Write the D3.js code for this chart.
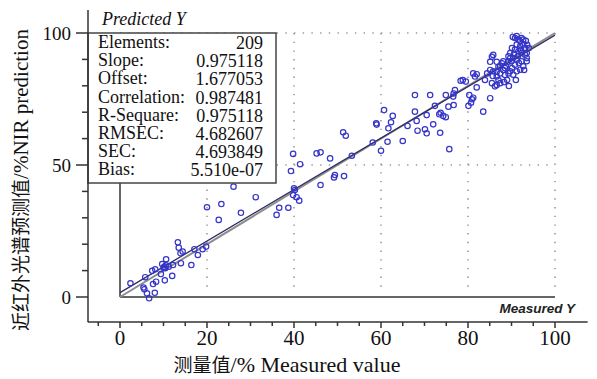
<!DOCTYPE html>
<html><head><meta charset="utf-8">
<script src="https://cdn.jsdelivr.net/npm/d3@7"></script>
<style>body{margin:0;background:#fff}</style>
</head><body>
<svg id="c" width="597" height="379"></svg>
<script>
const measured = [2.4,5.8,5.6,6.2,6.7,8.0,7.6,8.3,7.4,8.1,9.7,9.4,10.3,10.4,10.6,10.2,11.2,12.0,12.2,13.3,13.5,13.9,14.0,14.4,16.4,17.1,17.9,19.0,19.8,20.0,22.7,23.3,5.4,10.0,10.6,
26.1,27.8,31.2,36.6,38.7,36.0,39.8,41.4,39.3,45.2,46.1,46.1,40.2,39.8,40.6,41.2,48.3,40.0,
49.4,49.2,51.5,53.3,51.3,51.9,58.1,58.9,59.0,60.0,60.7,61.7,61.5,62.3,62.7,65.0,66.1,67.8,67.8,68.2,68.4,70.1,70.5,70.5,71.3,72.0,72.4,73.4,73.7,73.6,74.9,74.9,75.5,75.7,
74.3,76.7,77.0,76.6,76.7,78.3,78.8,79.5,80.3,80.9,81.2,80.7,80.1,81.2,82.0,81.6,82.0,83.5,83.9,85.1,84.4,85.1,85.7,85.1,85.5,85.8,86.6,87.0,86.6,86.6,87.0,87.4,87.8,88.1,88.7,89.3,89.7,87.4,88.5,89.3,85.5,86.6,
86.2,85.8,87.4,88.1,88.5,89.3,89.7,90.4,89.7,90.8,91.2,91.6,92.0,92.3,92.7,91.2,92.0,92.7,93.1,90.8,91.6,92.3,93.1,93.5,91.2,92.3,90.8,92.7,93.5,90.4,91.2,92.0,93.5,90.0,
90.1,91.5,90.6,92.2,93.6,91.7,92.9,90.1,89.0,89.4,88.3,91.0,90.3,93.3,94.0];
const predicted = [5.2,7.5,2.9,1.4,-0.5,1.6,4.9,5.8,9.9,10.5,12.5,8.7,6.3,10.9,14.3,11.5,11.5,8.0,12.1,20.7,18.7,16.6,12.8,17.2,12.1,18.1,15.9,18.1,19.1,34.0,29.2,35.2,3.6,11.0,12.0,
41.8,31.9,37.8,33.8,33.8,31.1,54.2,50.3,47.7,54.4,54.8,42.4,40.5,38.6,37.8,36.5,52.5,41.2,
46.2,45.3,45.8,53.5,62.4,61.1,58.5,65.8,65.3,55.4,70.8,63.9,58.8,66.2,68.6,59.1,64.8,76.5,70.2,66.7,63.0,63.5,62.0,68.9,76.5,65.4,72.4,69.2,69.8,62.2,76.5,68.1,72.1,56.0,
68.6,77.1,78.4,75.9,72.7,81.9,82.2,81.6,76.5,74.9,75.5,73.6,72.4,84.7,84.4,83.5,79.4,70.2,82.2,75.3,84.7,86.0,83.7,89.1,91.0,91.7,89.1,87.2,85.3,83.5,82.2,81.0,88.5,86.0,87.5,89.1,90.4,84.7,84.1,84.7,81.0,80.3,
79.8,85.5,87.4,89.3,86.7,91.2,92.4,90.5,85.5,98.1,98.8,97.5,96.9,98.1,97.5,95.6,95.0,95.6,94.3,93.7,93.1,92.4,91.8,90.5,89.9,89.3,88.0,87.4,92.4,84.2,85.5,86.1,89.3,89.3,
94.3,91.3,92.1,93.6,95.5,88.6,86.0,86.7,82.2,79.9,81.4,82.2,98.5,97.0,94.3];
const xTickLabels = [0,20,40,60,80,100];
const yTickLabels = [0,50,100];
const statLabels = ["Elements:","Slope:","Offset:","Correlation:","R-Sequare:","RMSEC:","SEC:","Bias:"];
const statValues = ["209","0.975118","1.677053","0.987481","0.975118","4.682607","4.693849","5.510e-07"];
const slope = 0.975118, offset = 1.677053;

const svg = d3.select("#c");
const x = d3.scaleLinear([0,100],[120,555]);
const y = d3.scaleLinear([0,100],[297,33]);
const serif = "'Liberation Serif','Times New Roman',serif";

// dotted grid
const grid = svg.append("g").attr("stroke","#9a9a9a").attr("stroke-width",1.6)
  .attr("stroke-dasharray","1.4,7.3").attr("fill","none");
[20,40,60,80,100].forEach(v=>grid.append("line").attr("x1",x(v)).attr("x2",x(v)).attr("y1",y(100)).attr("y2",y(3)));
[50,100].forEach(v=>grid.append("line").attr("x1",x(0)).attr("x2",x(100)).attr("y1",y(v)).attr("y2",y(v)));

// inner frame
svg.append("line").attr("x1",x(0)).attr("x2",x(0)).attr("y1",y(100)).attr("y2",y(0)).attr("stroke","#333").attr("stroke-width",1.5);
svg.append("line").attr("x1",x(0)).attr("x2",x(100)).attr("y1",y(0)).attr("y2",y(0)).attr("stroke","#333").attr("stroke-width",1.5);

// lines
svg.append("line").attr("x1",x(0)).attr("y1",y(0)).attr("x2",x(100)).attr("y2",y(100))
  .attr("stroke","#8c8c8c").attr("stroke-width",2);
svg.append("line").attr("x1",x(0)).attr("y1",y(offset)).attr("x2",x(100)).attr("y2",y(offset+slope*100))
  .attr("stroke","#2c2c66").attr("stroke-width",1.3);

// points
svg.append("g").selectAll("circle").data(measured.map((m,i)=>[m,predicted[i]])).join("circle")
  .attr("cx",d=>x(d[0])).attr("cy",d=>y(d[1])).attr("r",2.7)
  .attr("fill","none").attr("stroke","#3434c8").attr("stroke-width",1.2);

// stats box
svg.append("rect").attr("x",88).attr("y",y(100)).attr("width",188).attr("height",150)
  .attr("fill","#fff").attr("stroke","#444").attr("stroke-width",1.5);
const st = svg.append("g").attr("font-family",serif).attr("font-size",18).attr("fill","#111");
statLabels.forEach((s,i)=>{
  st.append("text").attr("x",98).attr("y",48+i*18.2).text(s);
  st.append("text").attr("x",263).attr("y",49+i*18.2).attr("text-anchor","end").text(statValues[i]);
});

// outer axes
const ax = svg.append("g").attr("stroke","#333").attr("stroke-width",1.5);
ax.append("line").attr("x1",88).attr("x2",88).attr("y1",y(108.7)).attr("y2",y(-9.5));
ax.append("line").attr("x1",x(-7.4)).attr("x2",x(107.5)).attr("y1",322).attr("y2",322);
d3.range(0,101,10).forEach(v=>ax.append("line").attr("x1",88).attr("x2",v%50===0?76:82).attr("y1",y(v)).attr("y2",y(v)));
d3.range(-5,101,5).forEach(v=>ax.append("line").attr("x1",x(v)).attr("x2",x(v)).attr("y1",322).attr("y2",v%20===0?328:326));

const tl = svg.append("g").attr("font-family",serif).attr("fill","#111");
yTickLabels.forEach(v=>tl.append("text").attr("x",71).attr("y",y(v)+6.5).attr("text-anchor","end").attr("font-size",19).text(v));
xTickLabels.forEach(v=>tl.append("text").attr("x",x(v)).attr("y",345).attr("text-anchor","middle").attr("font-size",21).text(v));

// corner labels
svg.append("text").attr("x",102).attr("y",25).attr("font-family",serif).attr("font-style","italic").attr("font-size",18).attr("fill","#111").text("Predicted Y");
svg.append("text").attr("x",575).attr("y",313).attr("text-anchor","end").attr("font-family","'Liberation Sans',Arial,sans-serif")
  .attr("font-weight","bold").attr("font-style","italic").attr("font-size",13.5).attr("fill","#222").text("Measured Y");

// axis titles
const xt = svg.append("text").attr("x",287).attr("y",372).attr("text-anchor","middle").attr("font-size",21).attr("fill","#111");
xt.append("tspan").attr("font-family","'Noto Sans CJK SC',sans-serif").attr("font-size",19).text("测量值");
xt.append("tspan").attr("font-family",serif).attr("font-size",22).text("/%  Measured value");
const yt = svg.append("text").attr("transform","translate(28,180) rotate(-90)").attr("text-anchor","middle").attr("font-size",21).attr("fill","#111");
yt.append("tspan").attr("font-family","'Noto Sans CJK SC',sans-serif").attr("font-size",19).text("近红外光谱预测值");
yt.append("tspan").attr("font-family",serif).text("/%NIR prediction");
</script>
</body></html>
